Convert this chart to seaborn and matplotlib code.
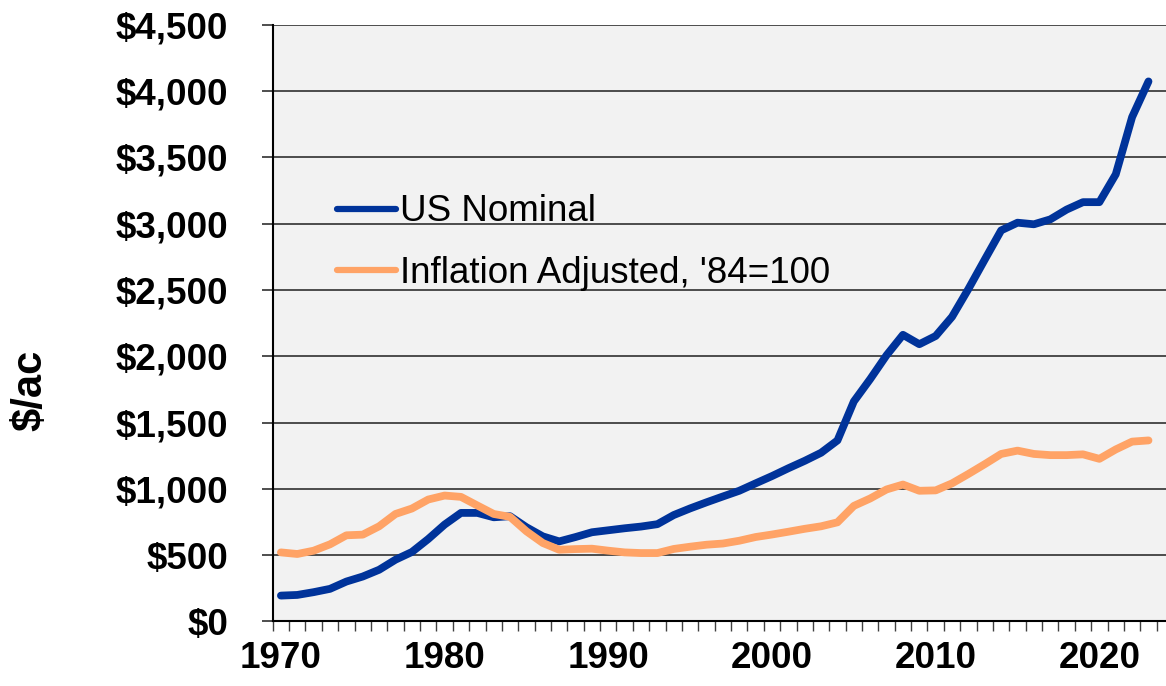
import numpy as np
import pandas as pd
import matplotlib
matplotlib.use('Agg')
import matplotlib.pyplot as plt
from matplotlib.ticker import FuncFormatter, FixedLocator
import seaborn as sns


years = list(range(1970, 2024))

us_nominal = [194, 199, 220, 245, 300, 338, 389, 465, 523, 621,
              730, 818, 818, 785, 793, 710, 641, 603, 636, 672,
              687, 702, 715, 733, 802, 852, 898, 942, 985, 1041,
              1096, 1155, 1211, 1272, 1365, 1659, 1828, 2008, 2162, 2091,
              2153, 2298, 2508, 2730, 2950, 3008, 2996, 3033, 3107, 3163,
              3163, 3373, 3805, 4074]

inflation_adj = [520, 508, 533, 581, 649, 654, 717, 810, 851, 919,
                 949, 939, 874, 810, 788, 679, 591, 540, 545, 548,
                 533, 520, 515, 515, 546, 563, 578, 587, 608, 636,
                 655, 676, 698, 717, 747, 871, 927, 995, 1032, 985,
                 988, 1041, 1112, 1186, 1263, 1288, 1263, 1254, 1254, 1260,
                 1226, 1297, 1356, 1365]

series_names = ['US Nominal', "Inflation Adjusted, '84=100"]
colors = {'US Nominal': '#00339A', "Inflation Adjusted, '84=100": '#FFA366'}

df = pd.DataFrame({
    'Year': years * 2,
    'Value': us_nominal + inflation_adj,
    'Series': [series_names[0]] * len(years) + [series_names[1]] * len(years),
})

sns.set_style('white')
plt.rcParams['font.family'] = ['Liberation Sans', 'DejaVu Sans']
plt.rcParams['text.color'] = 'black'
plt.rcParams['xtick.color'] = 'black'
plt.rcParams['ytick.color'] = 'black'

fig = plt.figure(figsize=(11.66, 6.86), dpi=100)
ax = fig.add_axes([0.2339, 0.0943, 0.7661, 0.8693])
ax.set_facecolor('#F2F2F2')

sns.lineplot(data=df, x='Year', y='Value', hue='Series', palette=colors,
             ax=ax, legend=False)
for line in ax.lines:
    line.set_linewidth(5.6)
    line.set_solid_capstyle('round')
    line.set_solid_joinstyle('round')

ax.set_ylim(0, 4500)
ax.set_xlim(1969.5, 2024.07)

# gridlines
ax.set_yticks(np.arange(0, 4501, 500))
ax.yaxis.grid(True, color='#303030', linewidth=1.2)
ax.set_axisbelow(True)
ax.yaxis.set_major_formatter(FuncFormatter(lambda v, p: f'${v:,.0f}'))
ax.tick_params(axis='y', which='major', left=True, length=8, width=1.2,
               pad=24, direction='out', labelsize=26.5, color='#303030')
for lab in ax.get_yticklabels():
    lab.set_fontweight('bold')

# x: labels centred on categories, ticks between categories
ax.set_xticks(list(range(1970, 2021, 10)))
ax.set_xticklabels([str(y) for y in range(1970, 2021, 10)], fontsize=26.5,
                   fontweight='bold')
ax.xaxis.set_minor_locator(FixedLocator(np.arange(1969.5, 2024.0, 1.0)))
ax.tick_params(axis='x', which='major', bottom=True, length=0, pad=14)
ax.tick_params(axis='x', which='minor', bottom=True, length=7.5, width=1.0,
               direction='out', color='#404040')

for s in ['top', 'right']:
    ax.spines[s].set_visible(False)
ax.spines['left'].set_color('black')
ax.spines['left'].set_linewidth(1.5)
ax.spines['bottom'].set_color('black')
ax.spines['bottom'].set_linewidth(1.5)

ax.set_xlabel('')
ax.set_ylabel('')
fig.text(0.026, 0.431, '$/ac', rotation=90, fontsize=30, fontweight='bold',
         ha='center', va='center')

handles = [plt.Line2D([], [], color=colors[n], linewidth=4.5,
                      solid_capstyle='round') for n in series_names]
ax.legend(handles, series_names, loc='center left',
          bbox_to_anchor=(0.072, 0.635), frameon=False, fontsize=26.5,
          handlelength=1.6, handletextpad=0.1, labelspacing=0.72,
          borderpad=0, borderaxespad=0)

plt.savefig('out.png', dpi=100)
